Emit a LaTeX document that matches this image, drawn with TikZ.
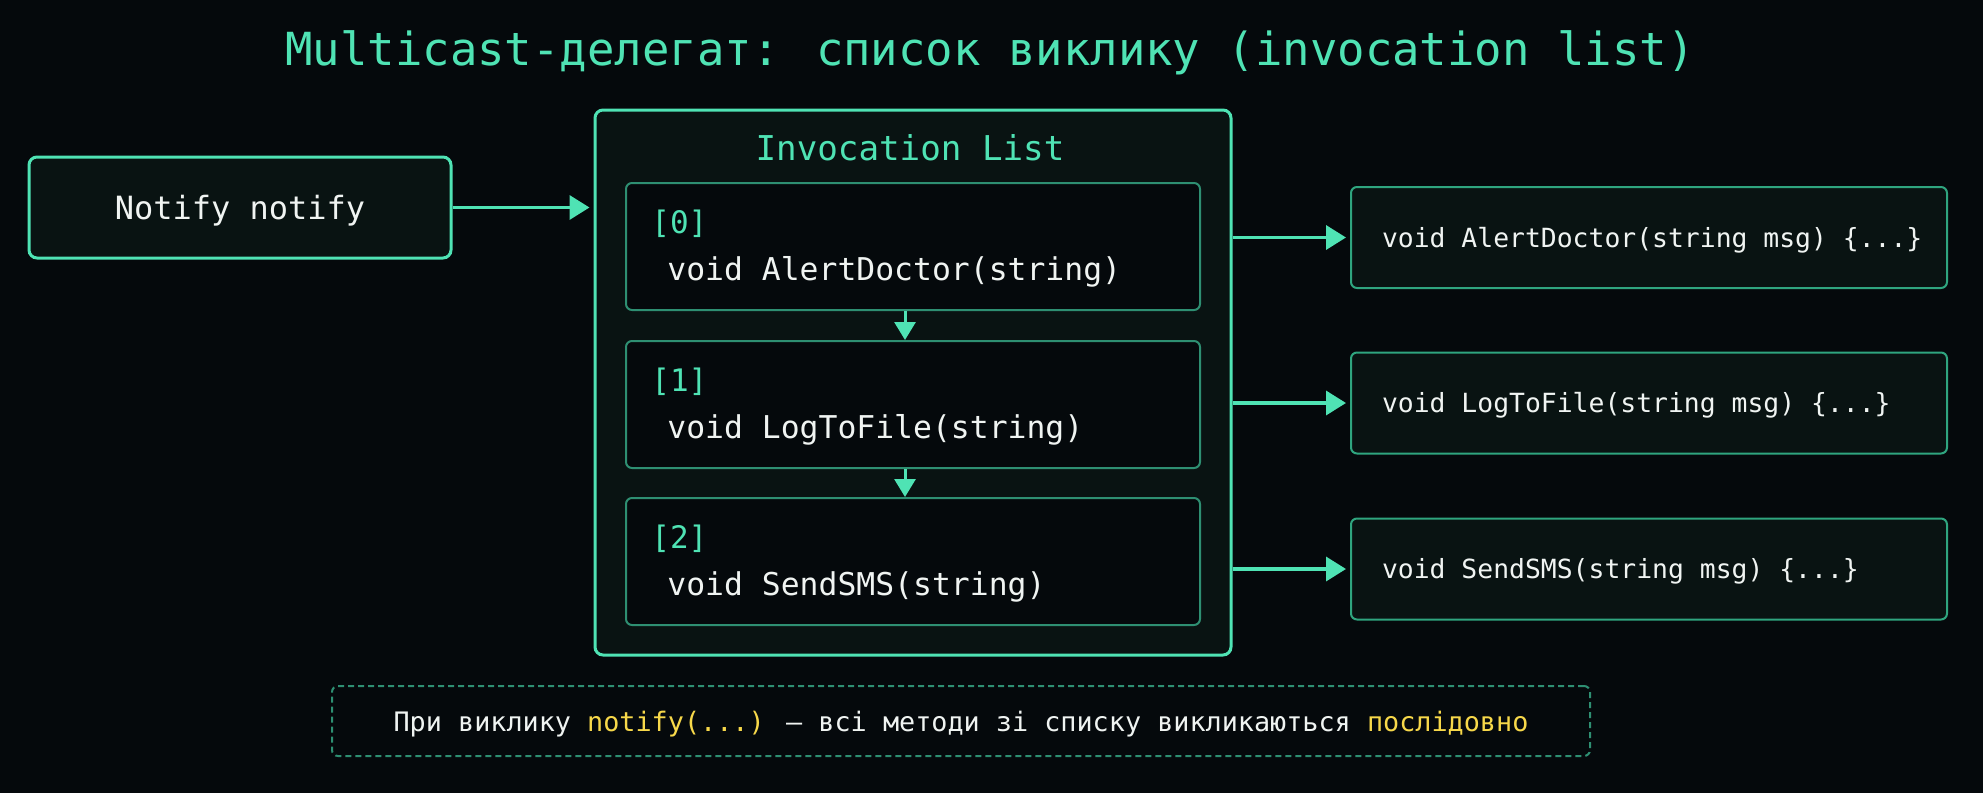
\documentclass[tikz,border=0pt]{standalone}
\usepackage{fontspec}
\setmainfont{DejaVu Sans Mono}
\usetikzlibrary{arrows.meta}
\definecolor{bg}{HTML}{05090C}
\definecolor{mint}{HTML}{4FE3B4}
\definecolor{dimgreen}{HTML}{2E8F72}
\definecolor{tgtgreen}{HTML}{2FA57F}
\definecolor{boxfill}{HTML}{091312}
\definecolor{txt}{HTML}{F0F4F2}
\definecolor{yel}{HTML}{F7D84A}
\newcommand\tgtline[1]{\makebox[267pt][l]{#1}}
\begin{document}
\begin{tikzpicture}[x=0.5pt,y=-0.5pt,
  titlestyle/.style={text=mint, inner sep=0pt, font=\fontsize{22.8pt}{26pt}\selectfont},
  notifybox/.style={draw=mint, line width=1.5pt, fill=boxfill, rounded corners=4pt,
    minimum width=211pt, minimum height=50.5pt, text=txt, inner sep=0pt,
    text height=15pt, text depth=3.5pt, font=\fontsize{16pt}{19pt}\selectfont},
  invbox/.style={draw=mint, line width=1.5pt, fill=boxfill, rounded corners=4pt,
    minimum width=318pt, minimum height=272.5pt, inner sep=0pt},
  invtitle/.style={text=mint, inner sep=0pt, font=\fontsize{17.1pt}{20pt}\selectfont},
  itembox/.style={draw=dimgreen, line width=1pt, fill=bg, rounded corners=3pt,
    minimum width=287pt, minimum height=63.5pt, inner sep=0pt},
  idxtext/.style={text=mint, inner sep=0pt, font=\fontsize{15.5pt}{18pt}\selectfont},
  codetext/.style={text=txt, inner sep=0pt, font=\fontsize{15.7pt}{18pt}\selectfont},
  tgtbox/.style={draw=tgtgreen, line width=1pt, fill=boxfill, rounded corners=3pt,
    inner xsep=15.5pt, inner ysep=0pt,
    minimum height=50.5pt, text=txt, text height=12.5pt, text depth=3pt,
    font=\fontsize{13.2pt}{16pt}\selectfont},
  notebox/.style={draw=dimgreen, line width=1pt, dash pattern=on 3pt off 2pt,
    fill=bg, rounded corners=3pt, minimum width=629pt, minimum height=35pt,
    inner sep=0pt, text=txt, text height=13pt, text depth=3pt,
    font=\fontsize{13.4pt}{16pt}\selectfont},
  arr/.style={draw=mint, line width=1.75pt, -{Triangle[length=10pt,width=12pt]}},
  darr/.style={draw=mint, line width=1.5pt, -{Triangle[length=9pt,width=10.5pt]}}
]
\useasboundingbox (0,0) rectangle (1983,793);
\fill[bg] (0,0) rectangle (1983,793);

\node[titlestyle, anchor=base] (title) at (990,65) {Multicast-делегат: список виклику (invocation list)};

\node[notifybox] (notify) at (240,207.5) {Notify notify};

\node[invbox] (inv) at (913,382.5) {};
\node[invtitle, anchor=base] (invt) at (910,160) {Invocation List};

\node[itembox] (i0) at (913,246.5) {};
\node[idxtext, anchor=base west] (i0n) at (651,233) {[0]};
\node[codetext, anchor=base west] (i0c) at (667,280) {void AlertDoctor(string)};

\node[itembox] (i1) at (913,404.5) {};
\node[idxtext, anchor=base west] (i1n) at (651,391) {[1]};
\node[codetext, anchor=base west] (i1c) at (667,438) {void LogToFile(string)};

\node[itembox] (i2) at (913,561.5) {};
\node[idxtext, anchor=base west] (i2n) at (651,548) {[2]};
\node[codetext, anchor=base west] (i2c) at (667,595) {void SendSMS(string)};

\node[tgtbox] (t0) at (1649,237.5) {\tgtline{void AlertDoctor(string msg) \{...\}}};
\node[tgtbox] (t1) at (1649,403) {\tgtline{void LogToFile(string msg) \{...\}}};
\node[tgtbox] (t2) at (1649,569) {\tgtline{void SendSMS(string msg) \{...\}}};

\node[notebox] (note) at (961,721) {При виклику \textcolor{yel}{notify(...)} — всі методи зі списку викликаються \textcolor{yel}{послідовно}};

\draw[arr, shorten >=2pt] (notify.east) -- (notify.east -| inv.west);
\draw[darr] ([xshift=-4pt]i0.south) -- ([xshift=-4pt]i1.north);
\draw[darr] ([xshift=-4pt]i1.south) -- ([xshift=-4pt]i2.north);
\draw[arr, shorten >=2pt] (inv.east |- t0.west) -- (t0.west);
\draw[arr, shorten >=2pt] (inv.east |- t1.west) -- (t1.west);
\draw[arr, shorten >=2pt] (inv.east |- t2.west) -- (t2.west);
\end{tikzpicture}
\end{document}
